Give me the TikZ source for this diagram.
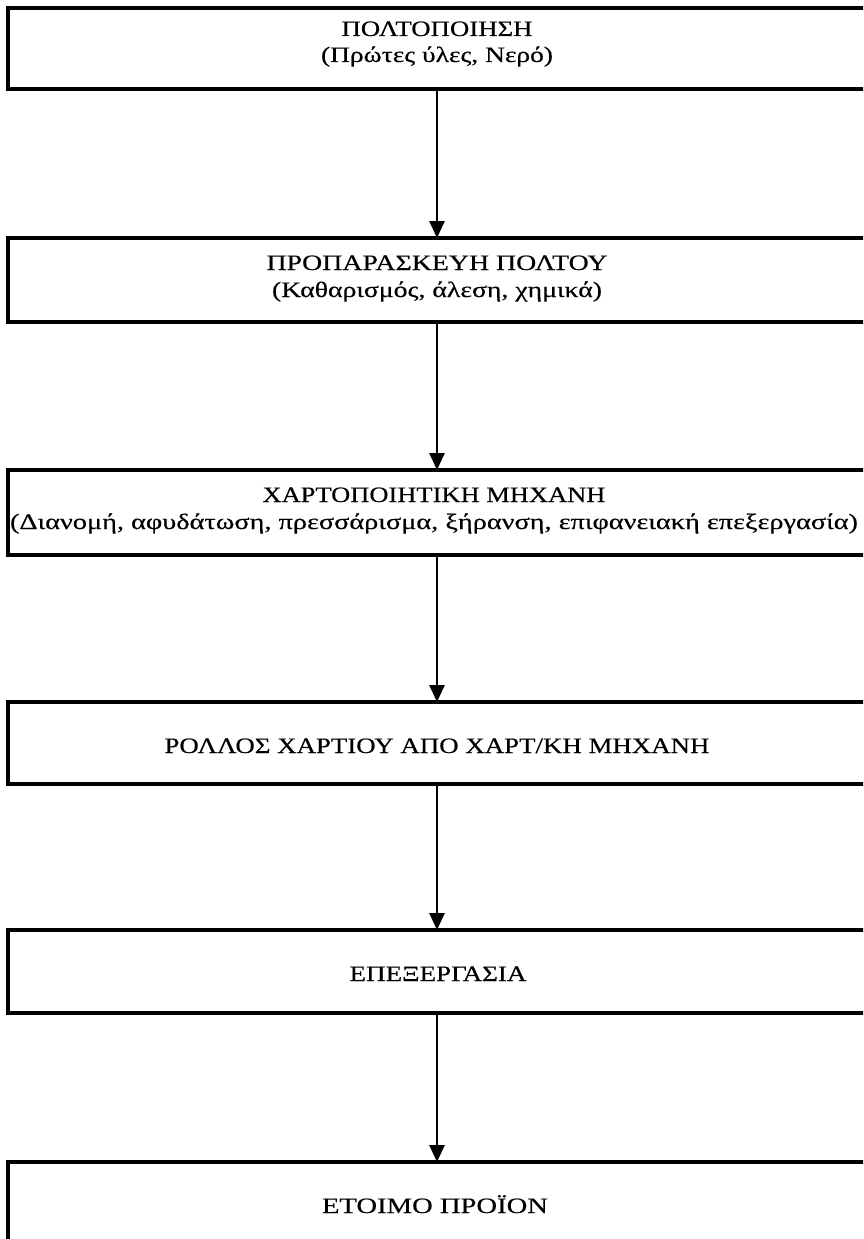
\documentclass[tikz,border=0pt]{standalone}
\usepackage{fontspec}
\setmainfont{Liberation Serif}
\newfontfamily\heavyserif[FakeBold=0.35]{Liberation Serif}
\usepackage{graphicx}
\usetikzlibrary{arrows.meta}
\newcommand\fitw[2]{\resizebox{#1}{\height}{#2}}
\tikzset{
  box/.style={draw=black, line width=3.2pt, rectangle, inner sep=0pt, outer sep=0pt,
    minimum width=880pt, anchor=north west},
  lbl/.style={inner sep=0pt, anchor=base, font=\heavyserif\fontsize{22}{26}\selectfont},
  arr/.style={draw=black, line width=2.8pt, -{Triangle[length=17pt,width=15pt]}}
}
\begin{document}
\begin{tikzpicture}[x=1pt,y=-1pt]
\useasboundingbox (0,0) rectangle (863,1239);
\fill[white] (0,0) rectangle (863,1239);
\clip (0,0) rectangle (863,1239);
\coordinate (ax) at (437,0);
% boxes
\node[box, minimum height=81pt] (b1) at (8,8) {};
\node[box, minimum height=84pt] (b2) at (8,238) {};
\node[box, minimum height=85pt] (b3) at (8,470) {};
\node[box, minimum height=82pt] (b4) at (8,702) {};
\node[box, minimum height=83pt] (b5) at (8,930) {};
\node[box, minimum height=120pt] (b6) at (8,1162) {};
% connectors
\draw[arr] (b1.south west -| ax) -- (b2.north west -| ax);
\draw[arr] (b2.south west -| ax) -- (b3.north west -| ax);
\draw[arr] (b3.south west -| ax) -- (b4.north west -| ax);
\draw[arr] (b4.south west -| ax) -- (b5.north west -| ax);
\draw[arr] (b5.south west -| ax) -- (b6.north west -| ax);
% labels
\node[lbl] (t1a) at (437,36) {\fitw{191pt}{ΠΟΛΤΟΠΟΙΗΣΗ}};
\node[lbl] (t1b) at (437,62) {\fitw{232pt}{(Πρώτες ύλες, Νερό)}};
\node[lbl] (t2a) at (437,270) {\fitw{341pt}{ΠΡΟΠΑΡΑΣΚΕΥΗ ΠΟΛΤΟΥ}};
\node[lbl] (t2b) at (437,297) {\fitw{330pt}{(Καθαρισμός, άλεση, χημικά)}};
\node[lbl] (t3a) at (434,502) {\fitw{343pt}{ΧΑΡΤΟΠΟΙΗΤΙΚΗ ΜΗΧΑΝΗ}};
\node[lbl] (t3b) at (434,529) {\fitw{848pt}{(Διανομή, αφυδάτωση, πρεσσάρισμα, ξήρανση, επιφανειακή επεξεργασία)}};
\node[lbl] (t4) at (437,753) {\fitw{545pt}{ΡΟΛΛΟΣ ΧΑΡΤΙΟΥ ΑΠΟ ΧΑΡΤ/ΚΗ ΜΗΧΑΝΗ}};
\node[lbl] (t5) at (438,981) {\fitw{177pt}{ΕΠΕΞΕΡΓΑΣΙΑ}};
\node[lbl] (t6) at (435,1213) {\fitw{226pt}{ΕΤΟΙΜΟ ΠΡΟΪΟΝ}};
\end{tikzpicture}
\end{document}
